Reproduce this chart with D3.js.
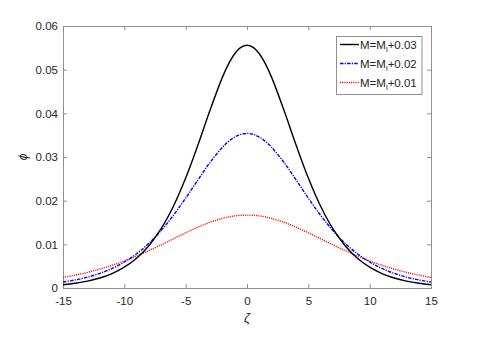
<!DOCTYPE html>
<html>
<head>
<meta charset="utf-8">
<script src="https://cdn.jsdelivr.net/npm/d3@7"></script>
<style>
  html, body { margin: 0; padding: 0; background: #fff; }
  svg text { font-family: "Liberation Sans", Arial, Helvetica, sans-serif; fill: #262626; }
</style>
</head>
<body>
<svg id="chart" width="485" height="346"></svg>
<script>
// values
const zeta = [-15,-14,-13,-12,-11,-10,-9,-8,-7,-6,-5,-4,-3,-2,-1.5,-1,-0.5,0,0.5,1,1.5,2,3,4,5,6,7,8,9,10,11,12,13,14,15];

// M = Ml + 0.03 (black, solid)
const phi03 = [0.00076,0.00108,0.00157,0.00228,0.00330,0.00476,0.00682,0.00969,0.01359,0.01872,0.02517,0.03275,0.04082,0.04829,0.05132,0.05364,0.05510,0.0556,
               0.05510,0.05364,0.05132,0.04829,0.04082,0.03275,0.02517,0.01872,0.01359,0.00969,0.00682,0.00476,0.00330,0.00228,0.00157,0.00108,0.00076];
// M = Ml + 0.02 (blue, dash-dot)
const phi02 = [0.00137,0.00185,0.00249,0.00335,0.00448,0.00595,0.00784,0.01023,0.01317,0.01665,0.02058,0.02476,0.02880,0.03224,0.03358,0.03457,0.03519,0.0354,
               0.03519,0.03457,0.03358,0.03224,0.02880,0.02476,0.02058,0.01665,0.01317,0.01023,0.00784,0.00595,0.00448,0.00335,0.00249,0.00185,0.00137];
// M = Ml + 0.01 (red, dotted)
const phi01 = [0.00242,0.00295,0.00358,0.00433,0.00520,0.00619,0.00732,0.00856,0.00989,0.01127,0.01264,0.01393,0.01506,0.01594,0.01627,0.01651,0.01665,0.0167,
               0.01665,0.01651,0.01627,0.01594,0.01506,0.01393,0.01264,0.01127,0.00989,0.00856,0.00732,0.00619,0.00520,0.00433,0.00358,0.00295,0.00242];

const xTicks = [-15,-10,-5,0,5,10,15];
const yTicks = [0,0.01,0.02,0.03,0.04,0.05,0.06];
const yTickLabels = ["0","0.01","0.02","0.03","0.04","0.05","0.06"];

const legendSuffix = ["+0.03","+0.02","+0.01"];

// plot box
const plotLeft = 63, plotRight = 431, plotTop = 26, plotBottom = 288;

const svg = d3.select("#chart");

const x = d3.scaleLinear().domain([-15, 15]).range([plotLeft, plotRight]);
const y = d3.scaleLinear().domain([0, 0.06]).range([plotBottom, plotTop]);

const axisColor = "#8f8f8f";
const fontSize = "11.5px";

// axes (ticks point inward, like matlab)
const gx = svg.append("g")
    .attr("transform", `translate(0,${plotBottom})`)
    .call(d3.axisBottom(x).tickValues(xTicks).tickSizeInner(-4).tickSizeOuter(0).tickPadding(9)
        .tickFormat(d => String(d)));
const gxTop = svg.append("g")
    .attr("transform", `translate(0,${plotTop})`)
    .call(d3.axisTop(x).tickValues(xTicks).tickSizeInner(-4).tickSizeOuter(0).tickFormat(""));
const gy = svg.append("g")
    .attr("transform", `translate(${plotLeft},0)`)
    .call(d3.axisLeft(y).tickValues(yTicks).tickSizeInner(-4).tickSizeOuter(0).tickPadding(5)
        .tickFormat((d, i) => yTickLabels[i]));
const gyRight = svg.append("g")
    .attr("transform", `translate(${plotRight},0)`)
    .call(d3.axisRight(y).tickValues(yTicks).tickSizeInner(-4).tickSizeOuter(0).tickFormat(""));

[gx, gxTop, gy, gyRight].forEach(g => {
    g.select(".domain").remove();
    g.selectAll("line").attr("stroke", axisColor);
    g.selectAll("text").style("font-size", fontSize).attr("fill", "#262626");
});

// frame
svg.append("rect")
    .attr("x", plotLeft + 0.5)
    .attr("y", plotTop + 0.5)
    .attr("width", plotRight - plotLeft)
    .attr("height", plotBottom - plotTop)
    .attr("fill", "none")
    .attr("stroke", axisColor)
    .attr("stroke-width", 1);

// curves
const series = [
    { values: phi03, color: "#000000", dash: null },
    { values: phi02, color: "#0000ff", dash: "3.5,1.2,1.2,1.2" },
    { values: phi01, color: "#ff0000", dash: "1.1,1.1" }
];

const line = d3.line()
    .x((d, i) => x(zeta[i]))
    .y(d => y(d))
    .curve(d3.curveCatmullRom.alpha(0.5));

series.slice().reverse().forEach(s => {
    svg.append("path")
        .datum(s.values)
        .attr("d", line)
        .attr("fill", "none")
        .attr("stroke", s.color)
        .attr("stroke-width", 1.4)
        .attr("stroke-dasharray", s.dash);
});

// axis labels
svg.append("text")
    .attr("x", (plotLeft + plotRight) / 2)
    .attr("y", 322)
    .attr("text-anchor", "middle")
    .style("font-size", "13px")
    .style("font-style", "italic")
    .text("ζ");

svg.append("text")
    .attr("transform", `translate(27,${(plotTop + plotBottom) / 2}) rotate(-90)`)
    .attr("text-anchor", "middle")
    .style("font-size", "12px")
    .style("font-style", "italic")
    .text("ϕ");

// legend
const legend = svg.append("g").attr("class", "legend");

legend.append("rect")
    .attr("x", 336.5)
    .attr("y", 36.5)
    .attr("width", 85.5)
    .attr("height", 58)
    .attr("fill", "#fff")
    .attr("stroke", axisColor)
    .attr("stroke-width", 1);

series.forEach((s, i) => {
    const ly = 44.5 + i * 19;
    legend.append("line")
        .attr("x1", 340)
        .attr("x2", 359)
        .attr("y1", ly)
        .attr("y2", ly)
        .attr("stroke", s.color)
        .attr("stroke-width", 1.4)
        .attr("stroke-dasharray", s.dash);

    const t = legend.append("text")
        .attr("x", 360)
        .attr("y", ly + 4)
        .style("font-size", fontSize);
    t.append("tspan").text("M=M");
    t.append("tspan").attr("dy", 3).style("font-size", "8px").text("l");
    t.append("tspan").attr("dy", -3).text(legendSuffix[i]);
});
</script>
</body>
</html>
